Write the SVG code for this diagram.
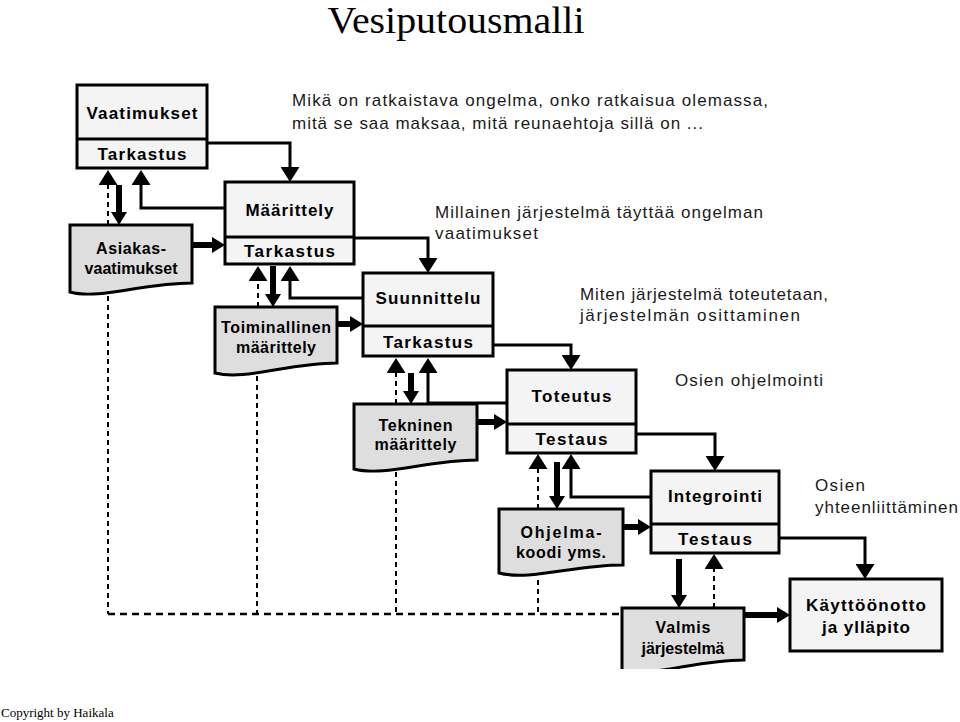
<svg xmlns="http://www.w3.org/2000/svg" width="960" height="722" viewBox="0 0 960 722">
<style>
.box{fill:#f4f4f4;stroke:#000;stroke-width:3}
.div{stroke:#000;stroke-width:3}
.doc{fill:#dedede;stroke:#000;stroke-width:3;stroke-linejoin:miter}
.bl{font-family:"Liberation Sans",Arial,sans-serif;font-weight:bold;font-size:17px;text-anchor:middle;fill:#000}
.dl{font-family:"Liberation Sans",Arial,sans-serif;font-weight:bold;font-size:16px;text-anchor:middle;fill:#000}
.desc{font-family:"Liberation Sans",Arial,sans-serif;font-size:17px;fill:#1a1a1a}
.thin{fill:none;stroke:#000;stroke-width:3}
.thick{fill:none;stroke:#000;stroke-width:6}
.dash{fill:none;stroke:#000;stroke-width:2;stroke-dasharray:5 4}
.dashh{fill:none;stroke:#000;stroke-width:2.5;stroke-dasharray:7 5}
.ttl{font-family:"Liberation Serif","Times New Roman",serif;font-size:37px;text-anchor:middle;fill:#000}
.cp{font-family:"Liberation Serif","Times New Roman",serif;font-size:13px;fill:#000}
</style>
<defs>
<marker id="ah" markerUnits="userSpaceOnUse" markerWidth="15" markerHeight="19" viewBox="0 0 15 19" refX="0" refY="9.5" orient="auto">
<path d="M0,0 L15,9.5 L0,19 Z" fill="#000"/>
</marker>
<marker id="ahk" markerUnits="userSpaceOnUse" markerWidth="13" markerHeight="16" viewBox="0 0 13 16" refX="0" refY="8" orient="auto">
<path d="M0,0 L13,8 L0,16 Z" fill="#000"/>
</marker>
<clipPath id="cut"><rect x="0" y="0" width="960" height="669"/></clipPath>
</defs>

<rect x="0" y="0" width="960" height="722" fill="#fff"/>

<text class="ttl" x="456" y="33" textLength="257" lengthAdjust="spacingAndGlyphs">Vesiputousmalli</text>

<g id="desc-texts">
<text class="desc" x="292" y="106" textLength="476" lengthAdjust="spacing">Mikä on ratkaistava ongelma, onko ratkaisua olemassa,</text>
<text class="desc" x="292" y="129" textLength="411" lengthAdjust="spacing">mitä se saa maksaa, mitä reunaehtoja sillä on ...</text>
<text class="desc" x="435" y="218" textLength="328" lengthAdjust="spacing">Millainen järjestelmä täyttää ongelman</text>
<text class="desc" x="435" y="239" textLength="103" lengthAdjust="spacing">vaatimukset</text>
<text class="desc" x="580" y="300" textLength="248" lengthAdjust="spacing">Miten järjestelmä toteutetaan,</text>
<text class="desc" x="580" y="321" textLength="220" lengthAdjust="spacing">järjestelmän osittaminen</text>
<text class="desc" x="675" y="386" textLength="148" lengthAdjust="spacing">Osien ohjelmointi</text>
<text class="desc" x="815" y="491" textLength="50" lengthAdjust="spacing">Osien</text>
<text class="desc" x="815" y="513" textLength="143" lengthAdjust="spacing">yhteenliittäminen</text>
</g>

<g id="connectors">
<path class="dash" d="M108,296 V614"/>
<path class="dash" d="M257,376 V614"/>
<path class="dash" d="M396,472 V614"/>
<path class="dash" d="M538,580 V614"/>
<path class="dashh" d="M108,614 H622"/>
<path class="thin" d="M207,143 H290 V167" marker-end="url(#ah)"/>
<path class="thin" d="M225,208 H141 V185" marker-end="url(#ah)"/>
<path class="thin" d="M354,238 H428 V258" marker-end="url(#ah)"/>
<path class="thin" d="M363,298 H290 V281" marker-end="url(#ah)"/>
<path class="thin" d="M493,345 H571 V355" marker-end="url(#ah)"/>
<path class="thin" d="M507,403 H428 V373" marker-end="url(#ah)"/>
<path class="thin" d="M636,434 H715 V456" marker-end="url(#ah)"/>
<path class="thin" d="M651,497 H571 V469" marker-end="url(#ah)"/>
<path class="thin" d="M779,538 H865 V564" marker-end="url(#ah)"/>
<path class="thick" d="M119,185 V212" marker-end="url(#ahk)"/>
<path class="thick" d="M273,266 V294" marker-end="url(#ahk)"/>
<path class="thick" d="M411,373 V391" marker-end="url(#ahk)"/>
<path class="thick" d="M557,462 V496" marker-end="url(#ahk)"/>
<path class="thick" d="M679,559 V595" marker-end="url(#ahk)"/>
<path class="thick" d="M192,245 H212" marker-end="url(#ahk)"/>
<path class="thick" d="M337,324 H350" marker-end="url(#ahk)"/>
<path class="thick" d="M477,422 H494" marker-end="url(#ahk)"/>
<path class="thick" d="M623,527 H638" marker-end="url(#ahk)"/>
<path class="thick" d="M744,615 H777" marker-end="url(#ahk)"/>
<path class="dash" d="M108,225 V185" marker-end="url(#ah)"/>
<path class="dash" d="M258,307 V281" marker-end="url(#ah)"/>
<path class="dash" d="M396,404 V373" marker-end="url(#ah)"/>
<path class="dash" d="M538,509 V469" marker-end="url(#ah)"/>
<path class="dash" d="M714,608 V569" marker-end="url(#ah)"/>
</g>

<g id="vaatimukset">
<rect class="box" x="77" y="85" width="130" height="83"/>
<line class="div" x1="77" y1="139" x2="207" y2="139"/>
<text class="bl" x="142" y="119" textLength="111" lengthAdjust="spacing">Vaatimukset</text>
<text class="bl" x="142" y="160" textLength="89" lengthAdjust="spacing">Tarkastus</text>
</g>

<g id="maarittely">
<rect class="box" x="225" y="182" width="129" height="82"/>
<line class="div" x1="225" y1="237" x2="354" y2="237"/>
<text class="bl" x="289.5" y="216" textLength="88" lengthAdjust="spacing">Määrittely</text>
<text class="bl" x="289.5" y="257" textLength="91" lengthAdjust="spacing">Tarkastus</text>
</g>

<g id="suunnittelu">
<rect class="box" x="363" y="273" width="130" height="83"/>
<line class="div" x1="363" y1="326" x2="493" y2="326"/>
<text class="bl" x="428" y="304" textLength="105" lengthAdjust="spacing">Suunnittelu</text>
<text class="bl" x="428" y="348" textLength="90" lengthAdjust="spacing">Tarkastus</text>
</g>

<g id="toteutus">
<rect class="box" x="507" y="370" width="129" height="83"/>
<line class="div" x1="507" y1="424" x2="636" y2="424"/>
<text class="bl" x="571.5" y="402" textLength="80" lengthAdjust="spacing">Toteutus</text>
<text class="bl" x="571.5" y="445" textLength="72" lengthAdjust="spacing">Testaus</text>
</g>

<g id="integrointi">
<rect class="box" x="651" y="471" width="128" height="82"/>
<line class="div" x1="651" y1="524" x2="779" y2="524"/>
<text class="bl" x="715" y="502" textLength="94" lengthAdjust="spacing">Integrointi</text>
<text class="bl" x="715" y="545" textLength="74" lengthAdjust="spacing">Testaus</text>
</g>

<g id="kayttoonotto">
<rect class="box" x="790" y="579" width="152" height="72"/>
<text class="bl" x="866" y="611" textLength="120" lengthAdjust="spacing">Käyttöönotto</text>
<text class="bl" x="866" y="633" textLength="88" lengthAdjust="spacing">ja ylläpito</text>
</g>

<g id="asiakasvaatimukset">
<path class="doc" d="M70,225 H192 V283 C143,283 100,300 70,292 Z"/>
<text class="dl" x="131" y="254" textLength="70" lengthAdjust="spacing">Asiakas-</text>
<text class="dl" x="131" y="274" textLength="93" lengthAdjust="spacing">vaatimukset</text>
</g>

<g id="toiminallinen">
<path class="doc" d="M215,307 H337 V363 C288,363 245,381 215,373 Z"/>
<text class="dl" x="276" y="333" textLength="110" lengthAdjust="spacing">Toiminallinen</text>
<text class="dl" x="276" y="353" textLength="80" lengthAdjust="spacing">määrittely</text>
</g>

<g id="tekninen">
<path class="doc" d="M354,404 H477 V460 C428,460 385,477 354,469 Z"/>
<text class="dl" x="415.5" y="431" textLength="74" lengthAdjust="spacing">Tekninen</text>
<text class="dl" x="415.5" y="450" textLength="82" lengthAdjust="spacing">määrittely</text>
</g>

<g id="ohjelmakoodi">
<path class="doc" d="M499,509 H623 V565 C573,565 530,581 499,573 Z"/>
<text class="dl" x="561" y="538" textLength="81" lengthAdjust="spacing">Ohjelma-</text>
<text class="dl" x="561" y="558" textLength="90" lengthAdjust="spacing">koodi yms.</text>
</g>

<g id="valmisjarjestelma" clip-path="url(#cut)">
<path class="doc" d="M622,608 H744 V660 C695,660 652,678 622,670 Z"/>
<text class="dl" x="683" y="633" textLength="55" lengthAdjust="spacing">Valmis</text>
<text class="dl" x="683" y="654" textLength="83" lengthAdjust="spacing">järjestelmä</text>
</g>

<text class="cp" x="1" y="717">Copyright by Haikala</text>
</svg>
